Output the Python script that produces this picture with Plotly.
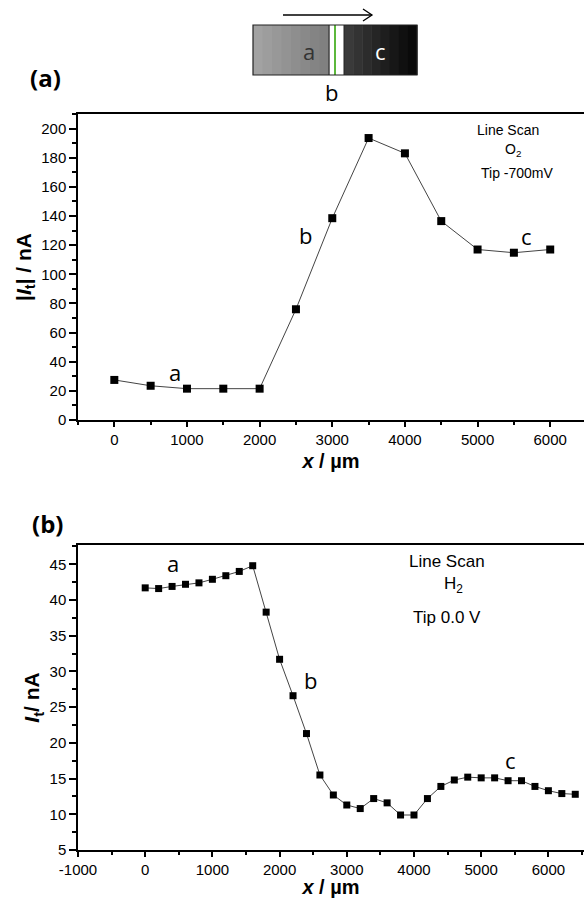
import plotly.graph_objects as go

W, H = 584, 898

# ---- data ----
x_a = [0, 500, 1000, 1500, 2000, 2500, 3000, 3500, 4000, 4500, 5000, 5500, 6000]
i_a = [27.5, 23.5, 21.5, 21.5, 21.5, 76, 138.5, 193.5, 183, 136.5, 117, 114.8, 117]

x_b = [0, 200, 400, 600, 800, 1000, 1200, 1400, 1600, 1800, 2000, 2200, 2400, 2600,
       2800, 3000, 3200, 3400, 3600, 3800, 4000, 4200, 4400, 4600, 4800, 5000, 5200,
       5400, 5600, 5800, 6000, 6200, 6400]
i_b = [41.7, 41.6, 41.9, 42.2, 42.4, 42.9, 43.4, 44.0, 44.8, 38.3, 31.7, 26.6, 21.3, 15.5,
       12.7, 11.3, 10.8, 12.2, 11.6, 9.9, 9.9, 12.2, 13.9, 14.8, 15.2, 15.1, 15.1,
       14.7, 14.7, 13.9, 13.3, 12.9, 12.8]

xt_a = [0, 1000, 2000, 3000, 4000, 5000, 6000]
yt_a = [0, 20, 40, 60, 80, 100, 120, 140, 160, 180, 200]
xt_b = [-1000, 0, 1000, 2000, 3000, 4000, 5000, 6000]
yt_b = [5, 10, 15, 20, 25, 30, 35, 40, 45]


def px(x):
    return x / W


def py(y):
    return 1 - y / H


fig = go.Figure()
fig.add_trace(go.Scatter(x=x_a, y=i_a, mode="lines+markers", xaxis="x", yaxis="y",
                         line=dict(color="#444", width=1),
                         marker=dict(symbol="square", size=8, color="black"),
                         showlegend=False))
fig.add_trace(go.Scatter(x=x_b, y=i_b, mode="lines+markers", xaxis="x2", yaxis="y2",
                         line=dict(color="#444", width=1),
                         marker=dict(symbol="square", size=7, color="black"),
                         showlegend=False))

tickfont = dict(family="Liberation Sans, Arial", size=15, color="black")
titlefont = dict(family="Liberation Sans, Arial", size=21, color="black")
xtitlefont = dict(family="Liberation Sans, Arial", size=20, color="black")

common = dict(showline=True, linecolor="black", linewidth=1.5, ticks="outside",
              ticklen=7, tickwidth=1.5, tickcolor="black", showgrid=False,
              zeroline=False, tickfont=tickfont, automargin=False)
minor_style = dict(ticks="outside", ticklen=4, tickcolor="black", tickwidth=1.5)

fig.update_layout(
    width=W, height=H,
    margin=dict(l=0, r=0, t=0, b=0),
    paper_bgcolor="white", plot_bgcolor="white",
    xaxis=dict(common, domain=[px(78), 1], range=[-500, 6465], anchor="y",
               tickvals=xt_a, mirror=True, ticklen=5,
               minor=dict(minor_style, dtick=500, tick0=0, ticklen=3),
               title=dict(text="<b><i>x</i> / µm</b>", font=xtitlefont, standoff=7)),
    yaxis=dict(common, domain=[py(420), py(114)], range=[0, 210], anchor="x",
               tickvals=yt_a,
               minor=dict(minor_style, dtick=10, tick0=0),
               title=dict(text="<b>|<i>I</i><sub>t</sub>| / nA</b>", font=titlefont, standoff=4)),
    xaxis2=dict(common, domain=[px(78), 1], range=[-1000, 6530], anchor="y2",
                tickvals=xt_b, ticktext=["-1000", "0", "1000", "2000", "3000", "4000", "5000", "6000"],
                mirror=True, ticklen=5,
                minor=dict(minor_style, dtick=500, tick0=0, ticklen=3),
                title=dict(text="<b><i>x</i> / µm</b>", font=xtitlefont, standoff=7)),
    yaxis2=dict(common, domain=[py(850), py(545)], range=[5, 47.7], anchor="x2",
                tickvals=yt_b,
                minor=dict(minor_style, dtick=2.5, tick0=0),
                title=dict(text="<b><i>I</i><sub>t</sub>/ nA</b>", font=titlefont, standoff=4)),
)

ann = []
lblfont = dict(family="Open Sans, Noto Sans", size=22, color="black")
C = dict(showarrow=False, xanchor="center", yanchor="middle")
# region labels in panel a
ann.append(dict(C, x=840, y=33, xref="x", yref="y", text="a", font=lblfont))
ann.append(dict(C, x=2627, y=127, xref="x", yref="y", text="b", font=lblfont))
ann.append(dict(C, x=5667, y=126, xref="x", yref="y", text="c", font=lblfont))
# region labels in panel b
ann.append(dict(C, x=421, y=45.2, xref="x2", yref="y2", text="a", font=lblfont))
ann.append(dict(C, x=2464, y=28.8, xref="x2", yref="y2", text="b", font=lblfont))
ann.append(dict(C, x=5432, y=17.6, xref="x2", yref="y2", text="c", font=lblfont))

txt_a = dict(family="Liberation Sans, Arial", size=14, color="black")
ann.append(dict(C, x=px(508), y=py(130), xref="paper", yref="paper", text="Line Scan", font=txt_a))
ann.append(dict(C, x=px(513), y=py(150), xref="paper", yref="paper", text="O<sub>2</sub>", font=txt_a))
ann.append(dict(C, x=px(517), y=py(173), xref="paper", yref="paper", text="Tip -700mV", font=txt_a))

txt_b = dict(family="Liberation Sans, Arial", size=17, color="black")
ann.append(dict(C, x=px(447), y=py(561), xref="paper", yref="paper", text="Line Scan", font=txt_b))
ann.append(dict(C, x=px(453), y=py(585), xref="paper", yref="paper", text="H<sub>2</sub>", font=txt_b))
ann.append(dict(C, x=px(447), y=py(617), xref="paper", yref="paper", text="Tip 0.0 V", font=txt_b))

# panel labels
pfont = dict(family="Open Sans, Noto Sans", size=24, color="black")
ann.append(dict(C, x=px(45), y=py(77), xref="paper", yref="paper", text="<b>(a)</b>", font=pfont))
ann.append(dict(C, x=px(47), y=py(523), xref="paper", yref="paper", text="<b>(b)</b>", font=pfont))

# schematic labels
ann.append(dict(C, x=px(309), y=py(51), xref="paper", yref="paper", text="a",
                font=dict(lblfont, color="#333")))
ann.append(dict(C, x=px(380), y=py(51), xref="paper", yref="paper", text="c",
                font=dict(lblfont, color="white")))
ann.append(dict(C, x=px(331), y=py(92), xref="paper", yref="paper", text="b", font=lblfont))

fig.update_layout(annotations=ann)

# schematic shapes
shapes = []
g0, g1 = 0xa2, 0x80
n = 8
for k in range(n):
    x0 = 253 + (329 - 253) * k / n
    x1 = 253 + (329 - 253) * (k + 1) / n + 0.5
    g = int(g0 + (g1 - g0) * k / (n - 1))
    shapes.append(dict(type="rect", xref="paper", yref="paper", x0=px(x0), x1=px(x1),
                       y0=py(75), y1=py(25), fillcolor=f"rgb({g},{g},{g})", line=dict(width=0)))
b0, b1 = 0x3a, 0x0a
for k in range(n):
    x0 = 344 + (417 - 344) * k / n
    x1 = 344 + (417 - 344) * (k + 1) / n + 0.5
    g = int(b0 + (b1 - b0) * k / (n - 1))
    shapes.append(dict(type="rect", xref="paper", yref="paper", x0=px(x0), x1=px(x1),
                       y0=py(75), y1=py(25), fillcolor=f"rgb({g},{g},{g})", line=dict(width=0)))
shapes.append(dict(type="line", xref="paper", yref="paper", x0=px(335), x1=px(335),
                   y0=py(75), y1=py(25), line=dict(color="#5cb83c", width=2)))
shapes.append(dict(type="rect", xref="paper", yref="paper", x0=px(253), x1=px(417),
                   y0=py(75), y1=py(25), line=dict(color="#222", width=1.2)))
shapes.append(dict(type="line", xref="paper", yref="paper", x0=px(329), x1=px(329),
                   y0=py(75), y1=py(25), line=dict(color="#222", width=1)))
shapes.append(dict(type="line", xref="paper", yref="paper", x0=px(344), x1=px(344),
                   y0=py(75), y1=py(25), line=dict(color="#222", width=1)))
# arrow
shapes.append(dict(type="line", xref="paper", yref="paper", x0=px(283), x1=px(372),
                   y0=py(15), y1=py(15), line=dict(color="black", width=1.3)))
shapes.append(dict(type="path", xref="paper", yref="paper",
                   path=f"M {px(363)} {py(9)} L {px(372)} {py(15)} L {px(363)} {py(21)}",
                   line=dict(color="black", width=1.3)))
fig.update_layout(shapes=shapes)

fig.write_html("out.html", config={"displayModeBar": False},
               post_script="document.body.style.margin='0';document.body.style.padding='0';")
